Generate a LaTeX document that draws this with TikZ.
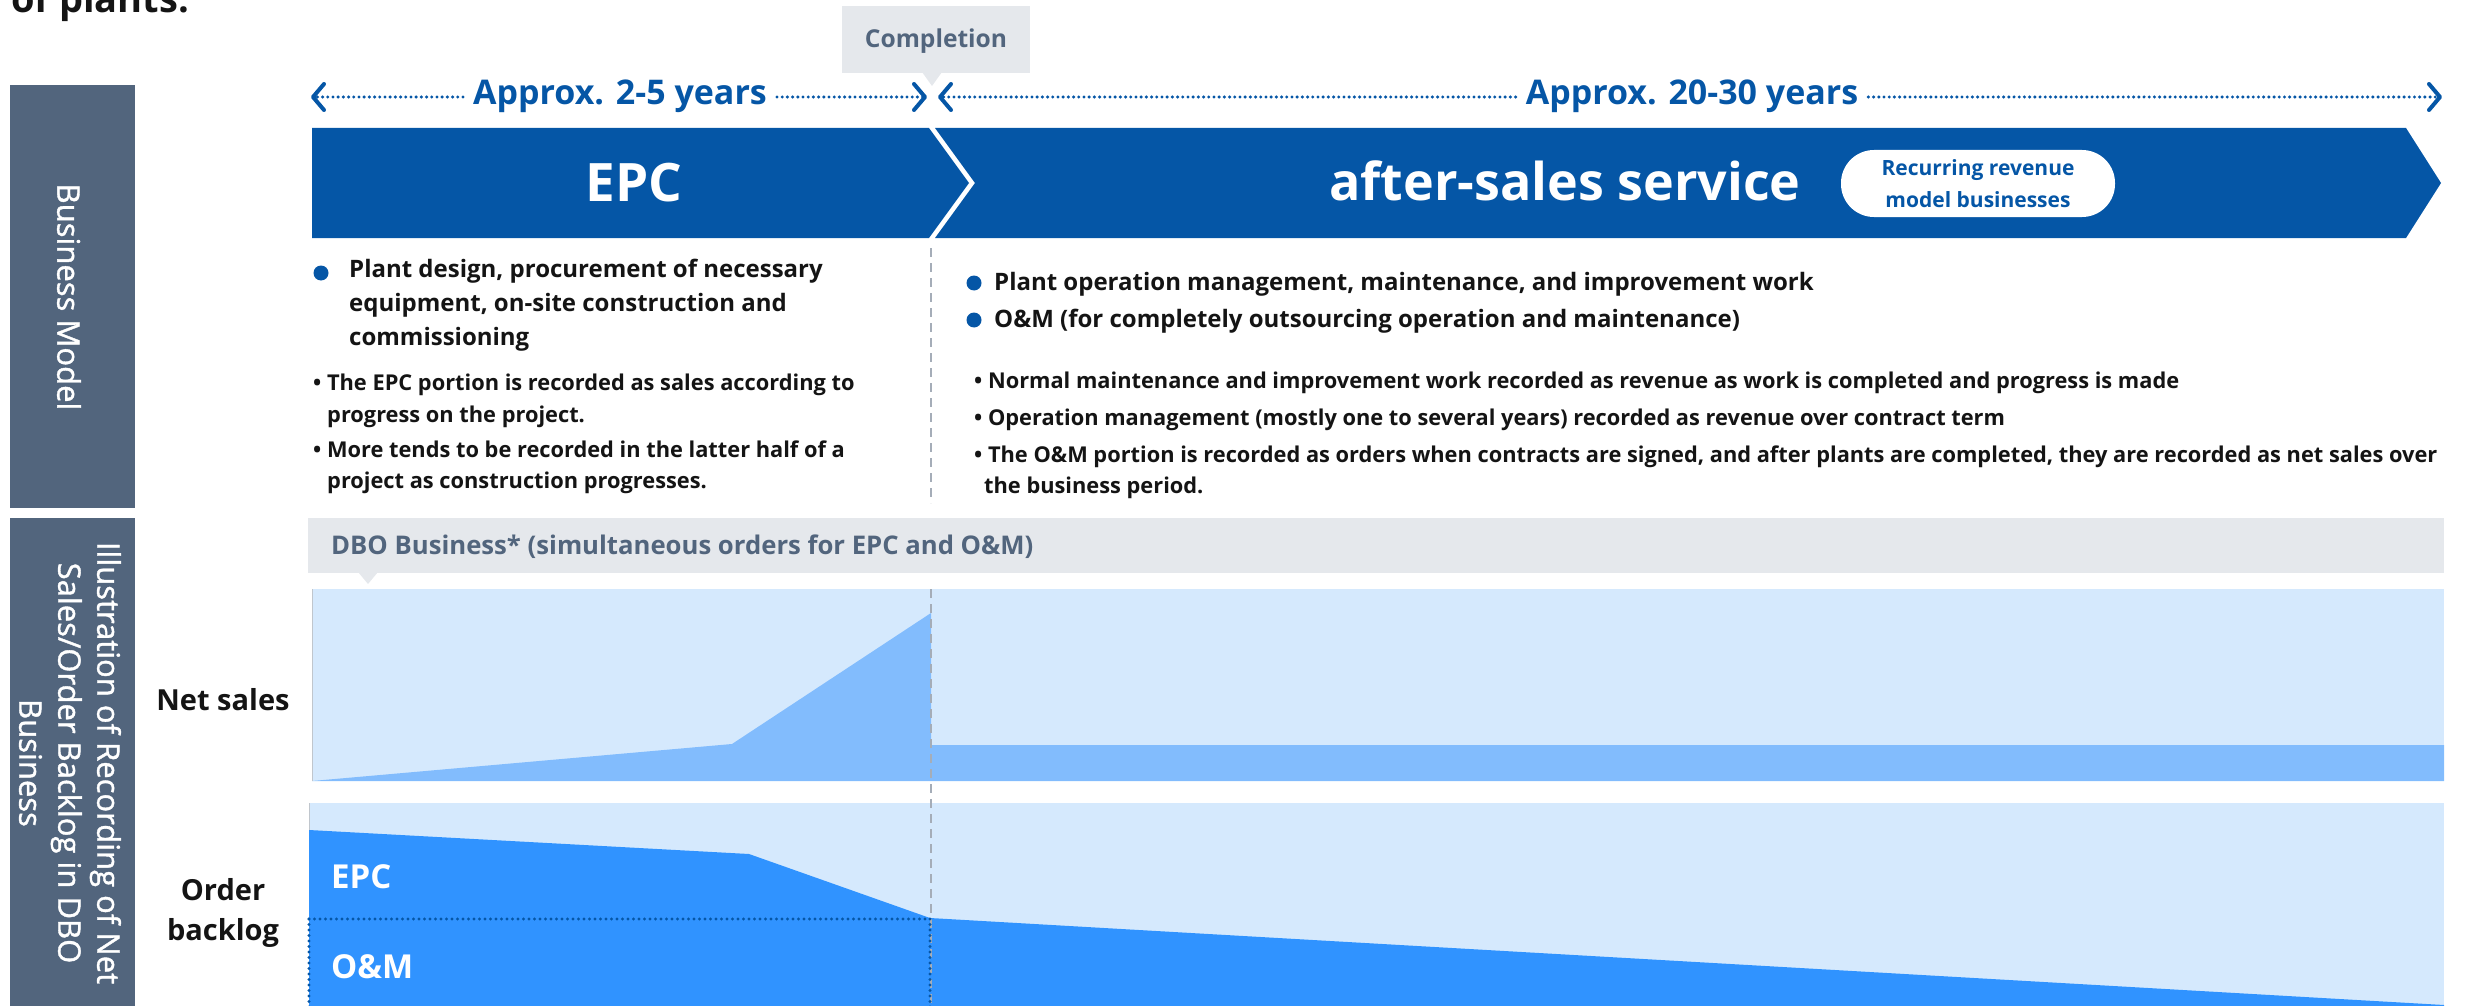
\documentclass[tikz,border=0pt]{standalone}
\usepackage{fontspec}
\setmainfont{Open Sans}
\newfontfamily\panelfont{Open Sans}[FakeBold=1.2]
\usetikzlibrary{arrows.meta}
\definecolor{bannerblue}{RGB}{5,86,166}
\definecolor{slate}{RGB}{82,101,125}
\definecolor{lgray}{RGB}{229,232,236}
\definecolor{bgblue}{RGB}{213,233,253}
\definecolor{midblue}{RGB}{130,188,253}
\definecolor{darkblue}{RGB}{48,147,255}
\definecolor{dashgray}{RGB}{165,173,184}
\definecolor{txt}{RGB}{20,20,20}
\newcommand{\sz}[2]{\fontsize{#1}{#2}\selectfont}
\begin{document}
\begin{tikzpicture}[x=1pt,y=-1pt,
  panel/.style={fill=slate,draw=none},
  paneltxt/.style={text=white,font=\panelfont\sz{31}{39},rotate=-90,align=center,inner sep=0},
  bigbul/.style={anchor=base west,text=txt,font=\bfseries\sz{24}{33},inner sep=0},
  smallbul/.style={anchor=base west,text=txt,font=\bfseries\sz{21.8}{32},inner sep=0},
  bdot/.style={circle,fill=bannerblue,minimum size=15,inner sep=0},
  timetxt/.style={text=bannerblue,font=\bfseries\sz{34}{40},inner sep=10},
  timearrow/.style={draw=bannerblue,line width=3.4pt,dash pattern=on 0pt off 5.2pt,line cap=round,
    -{Straight Barb[length=11pt,width=26pt,line width=4pt,line cap=round,line join=round]}},
  rowlabel/.style={text=txt,font=\bfseries\sz{29}{40},align=center},
  chartlabel/.style={anchor=west,text=white,font=\bfseries\sz{33}{40},inner sep=0},
  blueline/.style={draw=bannerblue,line width=3.4pt,dash pattern=on 0pt off 5.5pt,line cap=round},
  graydash/.style={draw=dashgray,line width=2pt,dash pattern=on 9pt off 6pt}
]
\useasboundingbox (0,0) rectangle (2466,1006);
\clip (0,0) rectangle (2466,1006);

% heading fragment
\node[anchor=base west,inner sep=0,text=txt,font=\bfseries\sz{38}{44}] (head) at (11,13) {of plants.};

% side panels
\node[panel,minimum width=125,minimum height=423,inner sep=0] (bm) at (72.5,296.5) {};
\node[paneltxt] (bmtxt) at (69,297) {Business Model};
\node[panel,minimum width=125,minimum height=500,inner sep=0] (il) at (72.5,768) {};
\node[paneltxt] (iltxt) at (70,763) {Illustration of Recording of Net\\Sales/Order Backlog in DBO\\Business};

% completion callout
\fill[lgray] (842,6) rectangle (1030,73);
\fill[lgray] (922,72) -- (942,72) -- (932,86) -- cycle;
\node[text=slate,font=\bfseries\sz{24.6}{28}] (compl) at (936,41) {Completion};

% timeline arrows
\node[timetxt,anchor=base] (t1) at (620,105) {Approx. 2-5 years};
\coordinate (t1L) at (311,97);
\coordinate (t1R) at (927,97);
\draw[timearrow] (t1.west |- t1L) -- (t1L);
\draw[timearrow] (t1.east |- t1R) -- (t1R);
\node[timetxt,anchor=base] (t2) at (1692,105) {Approx. 20-30 years};
\coordinate (t2L) at (938,97);
\coordinate (t2R) at (2442,97);
\draw[timearrow] (t2.west |- t2L) -- (t2L);
\draw[timearrow] (t2.east |- t2R) -- (t2R);

% banner
\fill[bannerblue] (312,128) -- (929,128) -- (969,183) -- (929,238) -- (312,238) -- cycle;
\fill[bannerblue] (935,128) -- (2406,128) -- (2441,183) -- (2406,238) -- (935,238) -- (975,183) -- cycle;
\node[text=white,font=\bfseries\sz{53}{60}] (epc) at (634,183) {EPC};
\node[text=white,font=\bfseries\sz{52}{60}] (after) at (1565,181) {after-sales service};
\node[fill=white,rounded corners=33,minimum width=274,minimum height=67,inner sep=0,align=center,
  text=bannerblue,font=\bfseries\sz{21}{32}] (pill) at (1978,183.5) {Recurring revenue\\model businesses};

% divider
\draw[graydash] (931,248) -- (931,503);

% left column
\node[bdot] (ld1) at (321,273) {};
\node[bigbul] (lb1) at (349,277) {Plant design, procurement of necessary};
\node[bigbul] (lb2) at (349,311) {equipment, on-site construction and};
\node[bigbul] (lb3) at (349,345) {commissioning};
\node[smallbul] (ls1) at (313,390) {\textbullet\ The EPC portion is recorded as sales according to};
\node[smallbul] (ls2) at (327,422) {progress on the project.};
\node[smallbul] (ls3) at (313,457) {\textbullet\ More tends to be recorded in the latter half of a};
\node[smallbul] (ls4) at (327,488) {project as construction progresses.};

% right column
\node[bdot] (rd1) at (974,283) {};
\node[bigbul] (rb1) at (994,290) {Plant operation management, maintenance, and improvement work};
\node[bdot] (rd2) at (974,320) {};
\node[bigbul] (rb2) at (994,327) {O\&M (for completely outsourcing operation and maintenance)};
\node[smallbul] (rs1) at (974,388) {\textbullet\ Normal maintenance and improvement work recorded as revenue as work is completed and progress is made};
\node[smallbul] (rs2) at (974,425) {\textbullet\ Operation management (mostly one to several years) recorded as revenue over contract term};
\node[smallbul] (rs3) at (974,462) {\textbullet\ The O\&M portion is recorded as orders when contracts are signed, and after plants are completed, they are recorded as net sales over};
\node[smallbul] (rs4) at (984,493) {the business period.};

% DBO bar
\fill[lgray] (308,518) rectangle (2444,573);
\fill[lgray] (358,572) -- (378,572) -- (368,584) -- cycle;
\node[anchor=west,inner sep=0,text=slate,font=\bfseries\sz{25.7}{30}] (dbo) at (331,547) {DBO Business* (simultaneous orders for EPC and O\&M)};

% net sales chart
\fill[bgblue] (312,589) rectangle (2444,781);
\fill[midblue] (312,781) -- (732,744) -- (931,613) -- (931,745) -- (2444,745) -- (2444,781) -- cycle;
\draw[dashgray!70,line width=1pt] (312,589) -- (312,781);
\node[rowlabel] (ns) at (223,700) {Net sales};

% order backlog chart
\fill[bgblue] (309,803) rectangle (2444,1006);
\fill[darkblue] (309,830) -- (749,854) -- (930,918) -- (2444,1005) -- (2444,1006) -- (309,1006) -- cycle;
\draw[dashgray!70,line width=1pt] (309,803) -- (309,830);
\node[rowlabel] (ob) at (223,913) {Order\\backlog};
\node[chartlabel] (cepc) at (331,877) {EPC};
\node[chartlabel] (com) at (331,967) {O\&M};

% completion line through charts
\draw[graydash] (931,589) -- (931,1006);

% dotted O&M frame
\coordinate (f1) at (309,919);
\coordinate (f2) at (930,919);
\coordinate (f3) at (309,1010);
\coordinate (f4) at (930,1010);
\draw[blueline] (f1) -- (f2);
\draw[blueline] (f1) -- (f3);
\draw[blueline] (f2) -- (f4);
\end{tikzpicture}
\end{document}
